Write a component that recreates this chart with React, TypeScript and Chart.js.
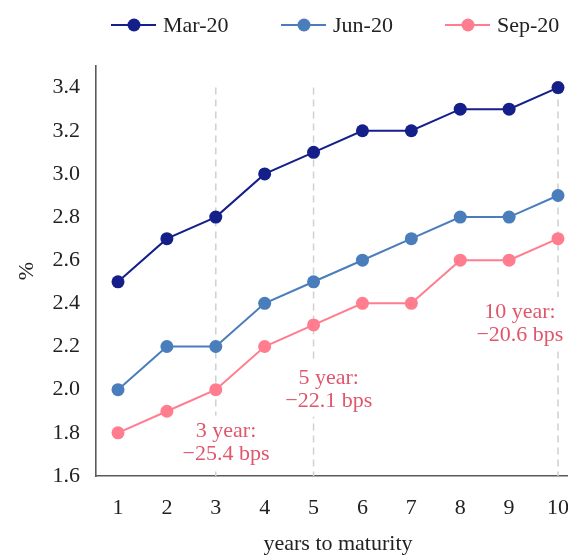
import React, { useEffect, useRef } from 'react';
import { Chart, registerables } from 'chart.js';

Chart.register(...registerables);

// --- data ---
const maturities = [1, 2, 3, 4, 5, 6, 7, 8, 9, 10];
const xTickLabels = ['1', '2', '3', '4', '5', '6', '7', '8', '9', '10'];
const yTicks = [1.6, 1.8, 2.0, 2.2, 2.4, 2.6, 2.8, 3.0, 3.2, 3.4];
const seriesNames = ['Mar-20', 'Jun-20', 'Sep-20'];
const mar20 = [2.5, 2.7, 2.8, 3.0, 3.1, 3.2, 3.2, 3.3, 3.3, 3.4];
const jun20 = [2.0, 2.2, 2.2, 2.4, 2.5, 2.6, 2.7, 2.8, 2.8, 2.9];
const sep20 = [1.8, 1.9, 2.0, 2.2, 2.3, 2.4, 2.4, 2.6, 2.6, 2.7];
const markedMaturities = [3, 5, 10];
const spreadChanges = ['\u221225.4', '\u221222.1', '\u221220.6'];

// --- look ---
const FONT_FAMILY = '"Liberation Serif", "DejaVu Serif", serif';
const FONT_SIZE = 22;
const TEXT = '#222222';
const SPINE = '#5a5a5a';
const colors = ['#141f8a', '#4a7dbb', '#ff7d8f'];
const NOTE_COLOR = '#e0566b';
// where the note boxes sit (data coords)
const noteAnchors = [
  { x: 3.21, y: 1.755 },
  { x: 5.31, y: 2.0 },
  { x: 9.22, y: 2.304 },
];
// legend item starts (px)
const legendX = [111, 281, 445];

const font = { family: FONT_FAMILY, size: FONT_SIZE };

const guidesPlugin = {
  id: 'guides',
  beforeDatasetsDraw(chart: any) {
    const { ctx, scales } = chart;
    const x = scales.x, y = scales.y;
    ctx.save();
    ctx.strokeStyle = '#d0d0d0';
    ctx.lineWidth = 1.5;
    ctx.setLineDash([7, 5]);
    markedMaturities.forEach((m) => {
      const px = x.getPixelForValue(m);
      ctx.beginPath();
      ctx.moveTo(px, y.getPixelForValue(yTicks[yTicks.length - 1]));
      ctx.lineTo(px, y.getPixelForValue(yTicks[0]));
      ctx.stroke();
    });
    ctx.setLineDash([]);

    ctx.font = `${FONT_SIZE}px ${FONT_FAMILY}`;
    ctx.textAlign = 'center';
    ctx.textBaseline = 'middle';
    const lh = 23;
    markedMaturities.forEach((m, i) => {
      const lines = [`${m} year:`, `${spreadChanges[i]} bps`];
      const cx = x.getPixelForValue(noteAnchors[i].x);
      const cy = y.getPixelForValue(noteAnchors[i].y);
      const w = Math.max(...lines.map((l) => ctx.measureText(l).width));
      ctx.fillStyle = '#ffffff';
      ctx.fillRect(cx - w / 2 - 4, cy - lh - 4, w + 8, lh * 2 + 8);
      ctx.fillStyle = NOTE_COLOR;
      lines.forEach((l, j) => ctx.fillText(l, cx, cy + (j - 0.5) * lh));
    });
    ctx.restore();
  },
};

const legendPlugin = {
  id: 'lineLegend',
  afterDraw(chart: any) {
    const { ctx } = chart;
    const cy = 25;
    ctx.save();
    chart.data.datasets.forEach((ds: any, i: number) => {
      const x0 = legendX[i];
      ctx.strokeStyle = ds.borderColor;
      ctx.lineWidth = 2;
      ctx.beginPath();
      ctx.moveTo(x0, cy);
      ctx.lineTo(x0 + 45, cy);
      ctx.stroke();
      ctx.fillStyle = ds.borderColor;
      ctx.beginPath();
      ctx.arc(x0 + 23, cy, 6.5, 0, Math.PI * 2);
      ctx.fill();
      ctx.fillStyle = TEXT;
      ctx.font = `${FONT_SIZE}px ${FONT_FAMILY}`;
      ctx.textAlign = 'left';
      ctx.textBaseline = 'alphabetic';
      ctx.fillText(ds.label, x0 + 52, 32);
    });
    ctx.restore();
  },
};

export default function App() {
  const canvasRef = useRef<HTMLCanvasElement>(null);

  useEffect(() => {
    const ctx = canvasRef.current?.getContext('2d');
    if (!ctx) return;

    const series = [mar20, jun20, sep20];
    const chart = new Chart(ctx, {
      type: 'line',
      data: {
        datasets: series.map((vals, i) => ({
          label: seriesNames[i],
          data: maturities.map((m, j) => ({ x: m, y: vals[j] })),
          borderColor: colors[i],
          backgroundColor: colors[i],
          pointBackgroundColor: colors[i],
          pointBorderWidth: 0,
          pointRadius: 6.5,
          borderWidth: 2,
          tension: 0,
        })),
      },
      options: {
        animation: false,
        responsive: true,
        maintainAspectRatio: false,
        layout: { padding: { top: 66, right: 20, left: 0, bottom: 0 } },
        plugins: { legend: { display: false }, tooltip: { enabled: false } },
        scales: {
          x: {
            type: 'linear',
            min: 0.55,
            max: 10.45,
            grid: { display: false },
            border: { display: true, color: SPINE, width: 1.6 },
            afterBuildTicks: (s: any) => {
              s.ticks = maturities.map((v) => ({ value: v }));
            },
            afterFit: (s: any) => {
              s.height = 104;
            },
            ticks: {
              padding: 11,
              font,
              color: TEXT,
              autoSkip: false,
              maxRotation: 0,
              callback: (_v: any, i: number) => xTickLabels[i],
            },
            title: {
              display: true,
              text: 'years to maturity',
              font,
              color: TEXT,
              padding: { top: 0, bottom: 23 },
            },
          },
          y: {
            min: 1.6,
            max: 3.5,
            grid: { display: false },
            border: { display: true, color: SPINE, width: 1.6 },
            afterBuildTicks: (s: any) => {
              s.ticks = yTicks.map((v) => ({ value: v }));
            },
            afterFit: (s: any) => {
              s.width = 96;
            },
            ticks: {
              padding: 8,
              font,
              color: TEXT,
              callback: (v: any) => Number(v).toFixed(1),
            },
            title: {
              display: true,
              text: '%',
              font,
              color: TEXT,
              padding: { top: 14, bottom: 0 },
            },
          },
        },
      },
      plugins: [guidesPlugin, legendPlugin],
    } as any);

    return () => chart.destroy();
  }, []);

  return (
    <div style={{ position: 'absolute', left: 0, top: 0, width: 568, height: 556, overflow: 'hidden', background: '#fff' }}>
      <div style={{ position: 'relative', width: 600, height: 580 }}>
        <canvas ref={canvasRef}></canvas>
      </div>
    </div>
  );
}
